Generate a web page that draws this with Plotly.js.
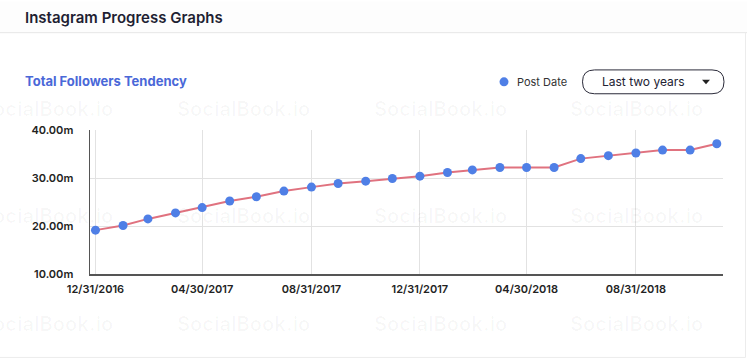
<!DOCTYPE html>
<html>
<head>
<meta charset="utf-8">
<script src="https://cdn.plot.ly/plotly-3.0.1.min.js"></script>
<style>
  html, body { margin: 0; padding: 0; background: #ffffff; }
  #chart { width: 747px; height: 361px; }
</style>
</head>
<body>
<div id="chart"></div>
<script>
// ---- data ----
const postDates = ['2016-12-31','2017-01-31','2017-02-28','2017-03-31','2017-04-30','2017-05-31',
  '2017-06-30','2017-07-31','2017-08-31','2017-09-30','2017-10-31','2017-11-30',
  '2017-12-31','2018-01-31','2018-02-28','2018-03-31','2018-04-30','2018-05-31',
  '2018-06-30','2018-07-31','2018-08-31','2018-09-30','2018-10-31','2018-11-30'];
const followers = [19.14, 20.10, 21.48, 22.72, 23.83, 25.21, 26.10, 27.28, 28.10, 28.86, 29.34, 29.90,
  30.38, 31.14, 31.68, 32.18, 32.18, 32.18, 34.04, 34.66, 35.20, 35.82, 35.82, 37.14];
const xTickVals = ['2016-12-31','2017-04-30','2017-08-31','2017-12-31','2018-04-30','2018-08-31'];
const xTickText = ['12/31/2016','04/30/2017','08/31/2017','12/31/2017','04/30/2018','08/31/2018'];
const yTickVals = [10, 20, 30, 40];
const yTickText = ['10.00m', '20.00m', '30.00m', '40.00m'];
const pageTitle = 'Instagram Progress Graphs';
const chartTitle = 'Total Followers Tendency';
const legendLabel = 'Post Date';
const rangeLabel = 'Last two years';
const watermark = 'SocialBook.io';

// ---- geometry helpers ----
const W = 747, H = 361;
const M = { l: 90, r: 24, t: 129.5, b: 86.5 };
const PW = W - M.l - M.r, PH = H - M.t - M.b;
const px = x => (x - M.l) / PW;
const py = y => 1 - (y - M.t) / PH;

const FONT = 'Inter, "Open Sans", sans-serif';
const annotations = [];
const shapes = [];

// watermarks
const wmCols = [-22, 175, 372, 568];
const wmRows = [108, 216, 325];
wmRows.forEach(r => wmCols.forEach(c => annotations.push({
  xref: 'paper', yref: 'paper', x: px(c), y: py(r), xanchor: 'left', yanchor: 'middle',
  text: watermark, showarrow: false,
  font: { family: FONT, size: 20, weight: 700, color: 'rgba(0,0,0,0.028)' }
})));

// header band and divider
shapes.push({ type: 'rect', xref: 'paper', yref: 'paper', x0: px(0), x1: px(W), y0: py(0), y1: py(31),
  fillcolor: '#fdfdfd', line: { width: 0 }, layer: 'below' });
shapes.push({ type: 'line', xref: 'paper', yref: 'paper', x0: px(0), x1: px(W), y0: py(31.5), y1: py(31.5),
  line: { color: '#e6e6e6', width: 1 } });
// card border right / bottom
shapes.push({ type: 'line', xref: 'paper', yref: 'paper', x0: px(745.5), x1: px(745.5), y0: py(31.5), y1: py(358.5),
  line: { color: '#ececec', width: 1 } });
shapes.push({ type: 'line', xref: 'paper', yref: 'paper', x0: px(0), x1: px(745.5), y0: py(358.5), y1: py(358.5),
  line: { color: '#ececec', width: 1 } });

annotations.push({ xref: 'paper', yref: 'paper', x: px(23), y: py(16), xanchor: 'left', yanchor: 'middle',
  text: pageTitle, showarrow: false, font: { family: FONT, size: 15, weight: 600, color: '#1f1f33' } });
annotations.push({ xref: 'paper', yref: 'paper', x: px(23), y: py(80.5), xanchor: 'left', yanchor: 'middle',
  text: chartTitle, showarrow: false, font: { family: FONT, size: 13, weight: 700, color: '#4a68d8' } });

// legend
shapes.push({ type: 'circle', xref: 'paper', yref: 'paper', x0: px(499.5), x1: px(508.5), y0: py(76.5), y1: py(85.5),
  fillcolor: '#4f7fe6', line: { width: 0 } });
annotations.push({ xref: 'paper', yref: 'paper', x: px(515), y: py(81), xanchor: 'left', yanchor: 'middle',
  text: legendLabel, showarrow: false, font: { family: FONT, size: 11, color: '#333333' } });

// dropdown (rounded rect path)
(function () {
  const x0 = 582.5, x1 = 724, y0 = 69, y1 = 93, r = 12;
  const X = v => px(v), Y = v => py(v);
  const path = `M ${X(x0 + r)} ${Y(y0)} L ${X(x1 - r)} ${Y(y0)} ` +
    `Q ${X(x1)} ${Y(y0)} ${X(x1)} ${Y(y0 + r)} Q ${X(x1)} ${Y(y1)} ${X(x1 - r)} ${Y(y1)} ` +
    `L ${X(x0 + r)} ${Y(y1)} Q ${X(x0)} ${Y(y1)} ${X(x0)} ${Y(y1 - r)} Q ${X(x0)} ${Y(y0)} ${X(x0 + r)} ${Y(y0)} Z`;
  shapes.push({ type: 'path', xref: 'paper', yref: 'paper', path: path, line: { color: '#2b2b3a', width: 1 } });
  const t = `M ${X(702)} ${Y(79)} L ${X(710)} ${Y(79)} L ${X(706)} ${Y(83.5)} Z`;
  shapes.push({ type: 'path', xref: 'paper', yref: 'paper', path: t, fillcolor: '#222', line: { width: 0 } });
})();
annotations.push({ xref: 'paper', yref: 'paper', x: px(643), y: py(81), xanchor: 'center', yanchor: 'middle',
  text: rangeLabel, showarrow: false, font: { family: FONT, size: 12, color: '#222233' } });

const trace = {
  type: 'scatter', mode: 'lines+markers',
  x: postDates, y: followers,
  line: { color: '#e0727f', width: 2 },
  marker: { color: '#4f7fe6', size: 9 },
  hoverinfo: 'x+y'
};

const layout = {
  width: W, height: H,
  margin: M,
  paper_bgcolor: '#ffffff', plot_bgcolor: '#ffffff',
  showlegend: false,
  font: { family: FONT },
  xaxis: {
    type: 'date',
    range: ['2016-12-24 20:00', '2018-12-07'],
    tickmode: 'array', tickvals: xTickVals, ticktext: xTickText,
    showgrid: true, gridcolor: '#e2e2e2', gridwidth: 1,
    showline: true, linecolor: '#555555', linewidth: 1.5,
    ticks: '', ticklabelstandoff: 4,
    tickfont: { family: FONT, size: 11, weight: 600, color: '#222222' },
    zeroline: false, fixedrange: true
  },
  yaxis: {
    range: [10, 40],
    tickmode: 'array', tickvals: yTickVals, ticktext: yTickText,
    showgrid: true, gridcolor: '#e2e2e2', gridwidth: 1,
    showline: true, linecolor: '#555555', linewidth: 1.5,
    ticks: '', ticklabelstandoff: 13,
    tickfont: { family: FONT, size: 11, weight: 600, color: '#222222' },
    zeroline: false, fixedrange: true
  },
  shapes: shapes,
  annotations: annotations
};

Plotly.newPlot('chart', [trace], layout, { displayModeBar: false, staticPlot: true });
</script>
</body>
</html>
